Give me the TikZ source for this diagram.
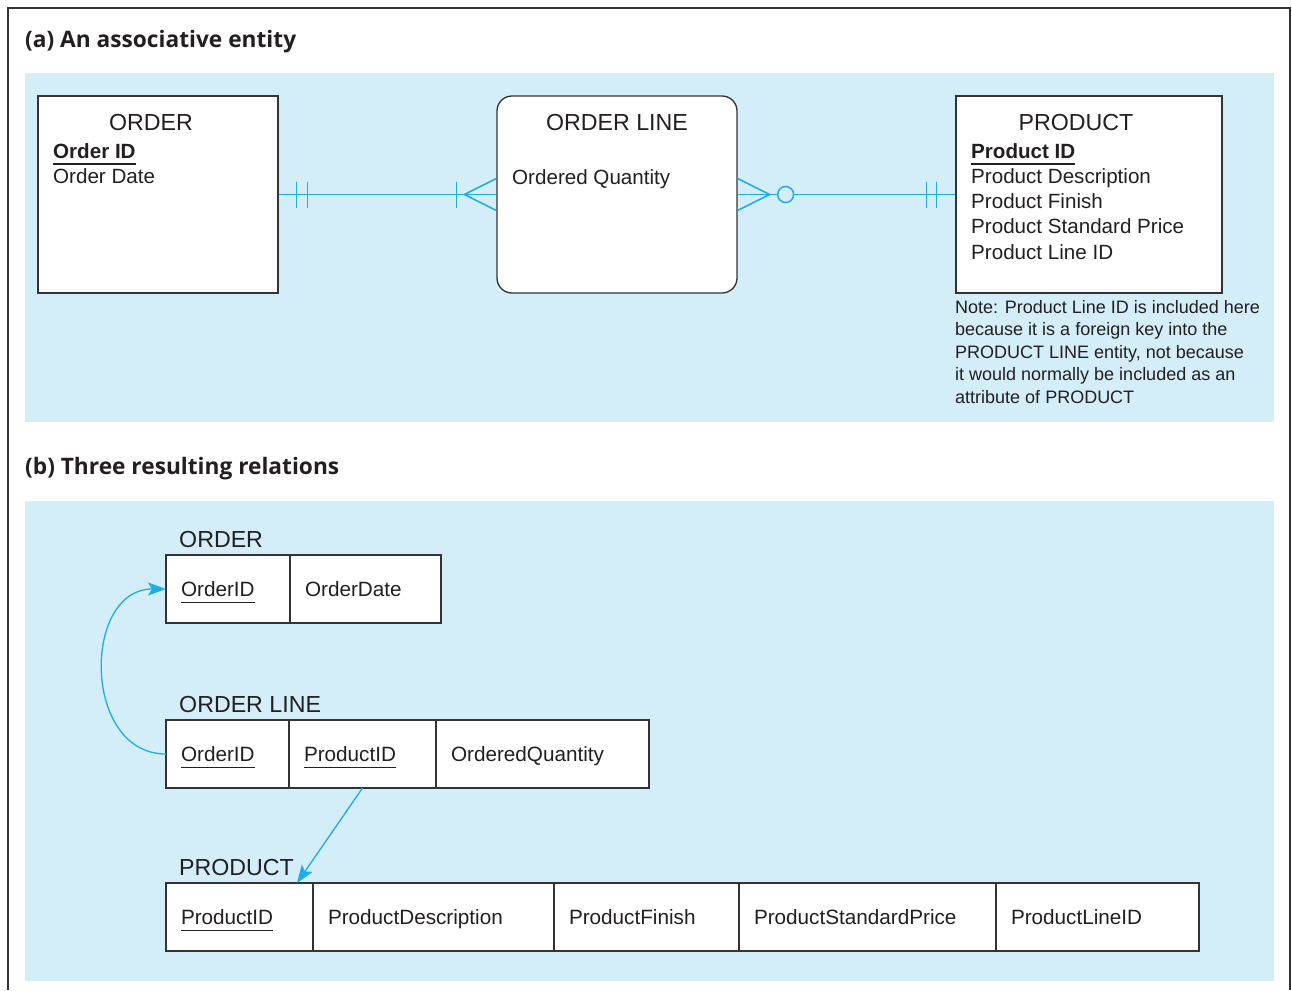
\documentclass[tikz,border=0pt]{standalone}
\usepackage{fontspec}
\setmainfont{Liberation Sans}
\newfontfamily\headfont{Open Sans}
\usetikzlibrary{calc,arrows.meta,positioning}
\definecolor{panelblue}{HTML}{D3EDF9}
\definecolor{linkblue}{HTML}{1BAEE8}
\definecolor{framegray}{HTML}{333333}
\definecolor{inkgray}{HTML}{231F20}
\newcommand{\keyattr}[1]{\setbox0\hbox{#1}\rlap{\smash{\rule[-6.5pt]{\wd0}{1.2pt}}}\box0}
\tikzset{
  entity/.style={draw=framegray, line width=1.3pt, fill=white, minimum height=197pt, inner sep=0pt},
  assoc/.style={entity, rounded corners=15pt},
  ename/.style={font=\fontsize{23.2}{27}\selectfont, text=inkgray, inner sep=0pt, anchor=base},
  attr/.style={font=\fontsize{20.6}{25}\selectfont, text=inkgray, inner sep=0pt, anchor=base west},
  notetext/.style={font=\fontsize{18}{22.5}\selectfont, text=inkgray, inner sep=0pt, align=left, anchor=base west},
  heading/.style={font=\headfont\bfseries\fontsize{22.7}{26}\selectfont, text=inkgray, inner sep=0pt, anchor=base west},
  relname/.style={font=\fontsize{23.2}{27}\selectfont, text=inkgray, inner sep=0pt, anchor=base west},
  cell/.style={draw=framegray, line width=1.2pt, fill=white, outer sep=0pt, minimum height=68pt,
    inner xsep=15pt, inner ysep=0pt, text width=#1, text height=14.5pt, text depth=0pt,
    align=left, text=inkgray, font=\fontsize{20.7}{24}\selectfont},
  conn/.style={draw=linkblue, line width=1.5pt},
  fk/.style={draw=linkblue, line width=1.3pt, -{Stealth[length=18pt,width=13pt,inset=4pt]}}
}

\begin{document}
\begin{tikzpicture}[x=1pt, y=-1pt]
  \useasboundingbox (0,0) rectangle (1292,990);
  \draw[framegray, line width=2pt] (8,990) -- (8,8) -- (1290,8) -- (1290,990);

  % (a) the entities
  \node[heading] (heada) at (25,48) {(a) An associative entity};
  \fill[panelblue] (25,73) rectangle (1274,422);

  \node[entity, minimum width=240pt] (order) at (158,194.5) {};
  \node[assoc, minimum width=240pt] (ordline) at (617,194.5) {};
  \node[entity, minimum width=266pt] (product) at (1089,194.5) {};

  \node[ename] (ordername) at (151,130) {ORDER};
  \node[attr] (orderid) at (53,158) {\bfseries\keyattr{Order ID}};
  \node[attr] (orderdate) at (53,183) {Order Date};

  \node[ename] (ordlinename) at (617,130) {ORDER LINE};
  \node[attr] (ordqty) at (512,184) {Ordered Quantity};

  \node[ename] (productname) at (1076,130) {PRODUCT};
  \node[attr] (productid) at (971,158) {\bfseries\keyattr{Product ID}};
  \node[attr] (proddesc) at (971,183) {Product Description};
  \node[attr] (prodfinish) at (971,208.5) {Product Finish};
  \node[attr] (prodprice) at (971,233.5) {Product Standard Price};
  \node[attr] (prodline) at (971,259) {Product Line ID};

  % base of a multi-line node is its last line
  \node[notetext] (note) at (955,403) {Note: Product Line ID is included here\\because it is a foreign key into the\\PRODUCT LINE entity, not because\\it would normally be included as an\\attribute of PRODUCT};

  % one and only one -- one or many
  \draw[conn] (order.east) -- (ordline.west);
  \draw[conn] ([xshift=18pt]order.east) +(0,-13) -- +(0,13);
  \draw[conn] ([xshift=29pt]order.east) +(0,-13) -- +(0,13);
  \draw[conn] ([xshift=-40pt]ordline.west) +(0,-13) -- +(0,13);
  \draw[conn] ([yshift=-16pt]ordline.west) -- ([xshift=-32pt]ordline.west) -- ([yshift=16pt]ordline.west);

  % zero or many -- one and only one
  \draw[conn] (ordline.east) -- (product.west);
  \draw[conn] ([yshift=-16pt]ordline.east) -- ([xshift=32pt]ordline.east) -- ([yshift=16pt]ordline.east);
  \draw[conn, fill=panelblue] ([xshift=48pt]ordline.east) circle (8pt);
  \draw[conn] ([xshift=-29pt]product.west) +(0,-13) -- +(0,13);
  \draw[conn] ([xshift=-19pt]product.west) +(0,-13) -- +(0,13);

  % (b) the relations
  \node[heading] (headb) at (25,474) {(b) Three resulting relations};
  \fill[panelblue] (25,501) rectangle (1274,981);

  \node[relname] (rorder) at (179,547) {ORDER};
  \node[cell=94pt, anchor=north west] (o1) at (166,555) {\keyattr{OrderID}};
  \node[cell=121pt, right=0pt of o1] (o2) {OrderDate};

  \node[relname] (rordline) at (179,712) {ORDER LINE};
  \node[cell=93pt, anchor=north west] (ol1) at (166,720) {\keyattr{OrderID}};
  \node[cell=117pt, right=0pt of ol1] (ol2) {\keyattr{ProductID}};
  \node[cell=183pt, right=0pt of ol2] (ol3) {OrderedQuantity};

  \node[relname] (rproduct) at (179,875) {PRODUCT};
  \node[cell=117pt, anchor=north west] (p1) at (166,883) {\keyattr{ProductID}};
  \node[cell=211pt, right=0pt of p1] (p2) {ProductDescription};
  \node[cell=155pt, right=0pt of p2] (p3) {ProductFinish};
  \node[cell=227pt, right=0pt of p3] (p4) {ProductStandardPrice};
  \node[cell=173pt, right=0pt of p4] (p5) {ProductLineID};

  % foreign keys
  \draw[fk] (ol1.west) .. controls +(-84,0) and +(-84,0) .. (o1.west);
  \draw[fk] (ol2.south) -- ([xshift=-16pt]p1.north east);
\end{tikzpicture}
\end{document}
